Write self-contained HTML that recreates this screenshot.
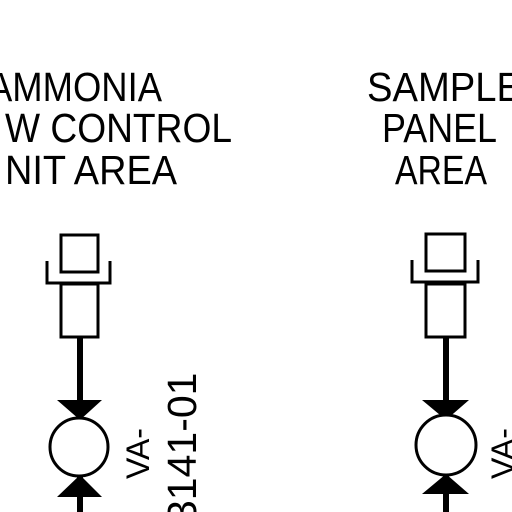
<!DOCTYPE html>
<html><head><meta charset="utf-8"><style>
html,body{margin:0;padding:0;background:#fff;width:512px;height:512px;overflow:hidden}
text{font-family:"Liberation Sans",Arial,sans-serif;fill:#000}
</style></head><body>
<svg width="512" height="512" viewBox="0 0 512 512">
<g font-size="41">
<text x="-12" y="101" textLength="174" lengthAdjust="spacingAndGlyphs">AMMONIA</text>
<text x="5" y="142" textLength="227" lengthAdjust="spacingAndGlyphs">W CONTROL</text>
<text x="5" y="184" textLength="172" lengthAdjust="spacingAndGlyphs">NIT AREA</text>
</g>
<g font-size="41">
<text x="367" y="101" textLength="155" lengthAdjust="spacingAndGlyphs">SAMPLE</text>
<text x="382" y="142" textLength="115" lengthAdjust="spacingAndGlyphs">PANEL</text>
<text x="395" y="184" textLength="92" lengthAdjust="spacingAndGlyphs">AREA</text>
</g>
<g stroke="#000" fill="none" stroke-width="3">
<rect x="61" y="235" width="37" height="37"/>
<path d="M47 261 V283 H110 V261"/>
<rect x="61" y="284" width="37" height="53"/>
<line x1="80" y1="337" x2="80" y2="512" stroke-width="6"/>
<path d="M57 400 H102 L80 420 Z" fill="#000" stroke="none"/>
<path d="M57 497 H102 L80 475 Z" fill="#000" stroke="none"/>
<circle cx="79" cy="447" r="29" fill="#fff"/>
</g>
<g>
<text font-size="32" transform="translate(149,479) rotate(-90)">VA-</text>
<text font-size="41" transform="translate(196,523) rotate(-90)">3141-01</text>
</g>
<g stroke="#000" fill="none" stroke-width="3">
<rect x="426" y="234" width="39" height="37"/>
<path d="M412 260 V282 H478 V260"/>
<rect x="426" y="284" width="39" height="53"/>
<line x1="446" y1="337" x2="446" y2="512" stroke-width="6"/>
<path d="M422 400 H469 L446 420 Z" fill="#000" stroke="none"/>
<path d="M422 494 H469 L446 474 Z" fill="#000" stroke="none"/>
<circle cx="446" cy="445" r="30" fill="#fff"/>
</g>
<g>
<text font-size="32" transform="translate(514,479) rotate(-90)">VA-</text>
</g>
</svg>
</body></html>
